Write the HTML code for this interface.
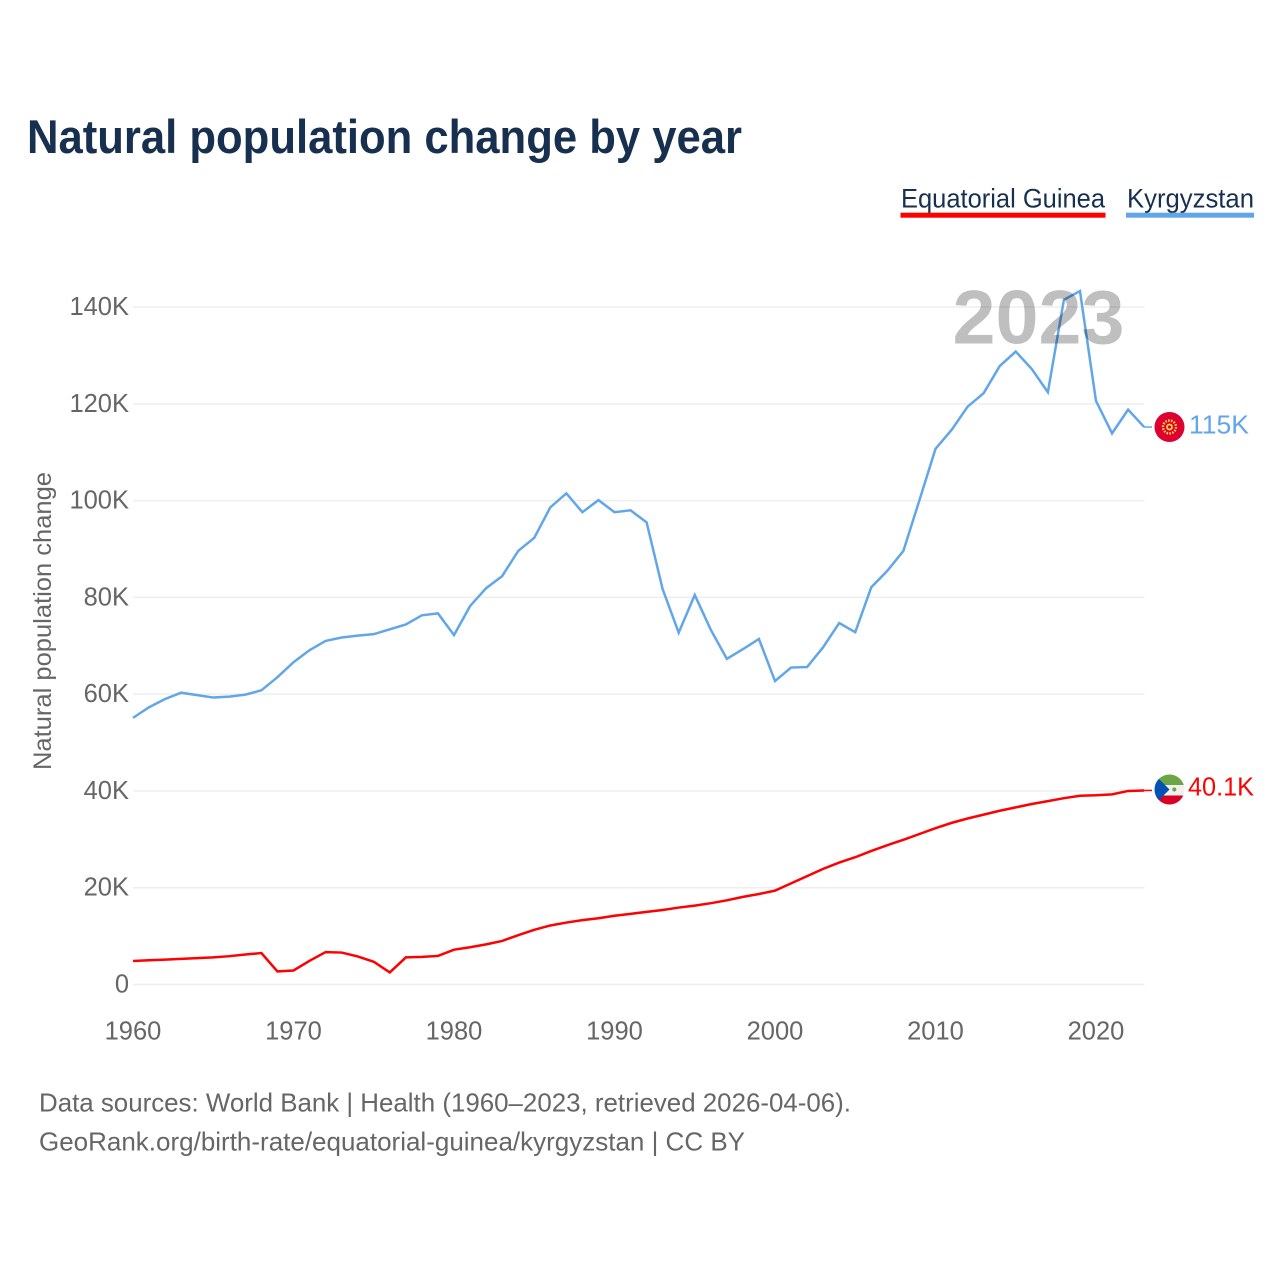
<!DOCTYPE html>
<html lang="en">
<head>
<meta charset="utf-8">
<title>Natural population change by year</title>
<style>
  html, body { margin: 0; padding: 0; background: #fff; }
  svg { display: block; font-family: "Liberation Sans", sans-serif; }
  .tick { font-size: 25.5px; fill: #666; }
</style>
</head>
<body>
<svg id="chart" width="1280" height="1280" viewBox="0 0 1280 1280" xmlns="http://www.w3.org/2000/svg">
  <defs>
    <clipPath id="flag-clip-gq"><circle cx="1169.5" cy="789.5" r="15"/></clipPath>
  </defs>
  <rect width="1280" height="1280" fill="#fff"/>

  <text x="27" y="153" font-size="47" font-weight="700" fill="#18304f" textLength="715" lengthAdjust="spacingAndGlyphs">Natural population change by year</text>

  <g>
    <g>
      <text x="901" y="207.5" font-size="27" fill="#18304f" textLength="204" lengthAdjust="spacingAndGlyphs">Equatorial Guinea</text>
      <rect x="900.5" y="212.7" width="205" height="5" fill="#ff0000"/>
    </g>
    <g>
      <text x="1127" y="207.5" font-size="27" fill="#18304f" textLength="127" lengthAdjust="spacingAndGlyphs">Kyrgyzstan</text>
      <rect x="1126" y="212.7" width="128" height="5" fill="#62a6ea"/>
    </g>
  </g>

  <text transform="translate(51 621) rotate(-90)" text-anchor="middle" font-size="25" fill="#666" textLength="298" lengthAdjust="spacingAndGlyphs">Natural population change</text>

  <g id="grid"></g>
  <g id="yticks"></g>
  <g id="xticks"></g>
  <g id="series"></g>

  <text x="1038.5" y="343.5" text-anchor="middle" font-size="76" font-weight="700" fill="#000" fill-opacity="0.25" textLength="172" lengthAdjust="spacingAndGlyphs">2023</text>

  <g>
    <circle cx="1169.5" cy="427" r="15" fill="#dd0031"/>
    <circle cx="1169.5" cy="427" r="6.5" fill="none" stroke="#ffda44" stroke-width="2.4" stroke-dasharray="1.6 1.3"/>
    <circle cx="1169.5" cy="427" r="3.4" fill="#ffda44"/>
    <circle cx="1169.5" cy="427" r="1.6" fill="#dd0031"/>
  </g>
  <text x="1189" y="433.5" font-size="25.5" fill="#62a6ea" textLength="60" lengthAdjust="spacingAndGlyphs">115K</text>

  <g clip-path="url(#flag-clip-gq)">
    <rect x="1154" y="774" width="31" height="11" fill="#6da544"/>
    <rect x="1154" y="785" width="31" height="10.5" fill="#f0f0f0"/>
    <rect x="1154" y="795.5" width="31" height="10" fill="#d80027"/>
    <polygon points="1154,774 1154,805 1169.5,789.5" fill="#0052b4"/>
    <circle cx="1174.3" cy="789.5" r="2" fill="#6da544"/>
  </g>
  <text x="1188" y="795.5" font-size="25.5" fill="#ff0000" textLength="66" lengthAdjust="spacingAndGlyphs">40.1K</text>

  <g>
    <text x="39" y="1111.5" font-size="26" fill="#666" textLength="812" lengthAdjust="spacingAndGlyphs">Data sources: World Bank | Health (1960–2023, retrieved 2026-04-06).</text>
    <text x="39" y="1150.5" font-size="26" fill="#666" textLength="706" lengthAdjust="spacingAndGlyphs">GeoRank.org/birth-rate/equatorial-guinea/kyrgyzstan | CC BY</text>
  </g>
</svg>
<script>
const firstYear = 1960;
const yTickValues = [0, 20, 40, 60, 80, 100, 120, 140];
const xTickYears = [1960, 1970, 1980, 1990, 2000, 2010, 2020];
const kyrgyzstanValues = [55.1, 57.3, 59.0, 60.3, 59.8, 59.3, 59.5, 59.9, 60.8, 63.5,
  66.6, 69.1, 71.0, 71.7, 72.1, 72.4, 73.4, 74.4, 76.3, 76.7,
  72.2, 78.2, 81.9, 84.4, 89.6, 92.3, 98.6, 101.5, 97.6, 100.1,
  97.6, 98.0, 95.5, 81.7, 72.7, 80.5, 73.3, 67.3, 69.3, 71.4,
  62.7, 65.5, 65.6, 69.7, 74.7, 72.8, 82.1, 85.5, 89.6, 100.1,
  110.7, 114.6, 119.4, 122.2, 127.8, 130.8, 127.2, 122.4, 141.5, 143.3,
  120.6, 113.9, 118.8, 115.2];
const equatorialGuineaValues = [4.85, 5.0, 5.15, 5.3, 5.45, 5.6, 5.85, 6.2, 6.5, 2.7,
  2.9, 4.9, 6.7, 6.6, 5.8, 4.7, 2.5, 5.6, 5.7, 5.9,
  7.2, 7.7, 8.3, 9.0, 10.2, 11.3, 12.2, 12.8, 13.3, 13.7,
  14.2, 14.6, 15.0, 15.4, 15.9, 16.3, 16.8, 17.4, 18.1, 18.7,
  19.4, 20.9, 22.4, 23.9, 25.2, 26.3, 27.6, 28.8, 29.9, 31.1,
  32.3, 33.4, 34.3, 35.1, 35.9, 36.6, 37.3, 37.9, 38.5, 39.0,
  39.1, 39.3, 40.0, 40.1];

const NS = 'http://www.w3.org/2000/svg';
function xScale(year) { return 133 + (year - 1960) * 16.05; }
function yScale(k) { return 984.5 - k * 4.839; }
function tickLabel(k) { return k === 0 ? '0' : k + 'K'; }
function linePath(values) {
  return values.map(function (v, i) {
    return (i ? 'L' : 'M') + xScale(firstYear + i).toFixed(2) + ' ' + yScale(v).toFixed(2);
  }).join(' ');
}

const grid = document.getElementById('grid');
const yticks = document.getElementById('yticks');
const xticks = document.getElementById('xticks');
const series = document.getElementById('series');

yTickValues.forEach(function (k) {
  const gl = document.createElementNS(NS, 'line');
  
  
  gl.setAttribute('x1', 133);
  gl.setAttribute('x2', 1144.5);
  gl.setAttribute('y1', yScale(k));
  gl.setAttribute('y2', yScale(k));
  gl.setAttribute('stroke', '#eeeeee');
  gl.setAttribute('stroke-width', 1.5);
  grid.appendChild(gl);

  const t = document.createElementNS(NS, 'text');
  
  
  t.setAttribute('class', 'tick');
  t.setAttribute('x', 129);
  t.setAttribute('y', yScale(k) + 8);
  t.setAttribute('text-anchor', 'end');
  t.textContent = tickLabel(k);
  yticks.appendChild(t);
});

xTickYears.forEach(function (yr) {
  const t = document.createElementNS(NS, 'text');
  
  
  t.setAttribute('class', 'tick');
  t.setAttribute('x', xScale(yr));
  t.setAttribute('y', 1039.5);
  t.setAttribute('text-anchor', 'middle');
  t.textContent = String(yr);
  xticks.appendChild(t);
});

function addSeries(values, color, seriesName, connectorName) {
  const p = document.createElementNS(NS, 'path');
  
  
  p.setAttribute('d', linePath(values));
  p.setAttribute('fill', 'none');
  p.setAttribute('stroke', color);
  p.setAttribute('stroke-width', 2.5);
  p.setAttribute('stroke-linejoin', 'miter');
  series.appendChild(p);

  const last = values[values.length - 1];
  const c = document.createElementNS(NS, 'line');
  
  
  c.setAttribute('x1', xScale(firstYear + values.length - 1));
  c.setAttribute('x2', 1152);
  c.setAttribute('y1', yScale(last));
  c.setAttribute('y2', yScale(last));
  c.setAttribute('stroke', color);
  c.setAttribute('stroke-width', 1.5);
  series.appendChild(c);
}
addSeries(equatorialGuineaValues, '#ff0000', 'line-equatorial-guinea', 'connector-equatorial-guinea');
addSeries(kyrgyzstanValues, '#62a6ea', 'line-kyrgyzstan', 'connector-kyrgyzstan');
</script>
</body>
</html>
